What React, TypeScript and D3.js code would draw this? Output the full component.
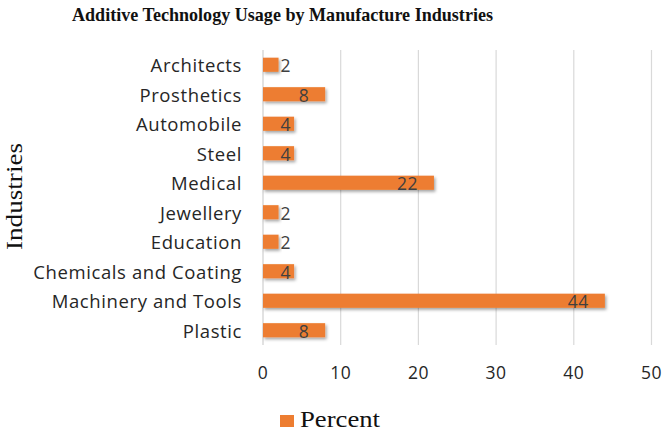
import React from "react";
import * as d3 from "d3";

const categories = ["Architects", "Prosthetics", "Automobile", "Steel", "Medical", "Jewellery", "Education", "Chemicals and Coating", "Machinery and Tools", "Plastic"];
const values = [2, 8, 4, 4, 22, 2, 2, 4, 44, 8];
const xTicks = [0, 10, 20, 30, 40, 50];
const title = "Additive  Technology Usage by Manufacture Industries";
const seriesName = "Percent";
const yTitle = "Industries";

export default function App() {
  const W = 666, H = 431;
  const left = 263, right = 651.5, top = 50, bottom = 345;
  const x = d3.scaleLinear().domain([0, 50]).range([left, right]);
  const y = d3.scaleBand().domain(categories).range([top, bottom]).paddingInner(0.52).paddingOuter(0.26);
  const orange = "#ED7D31";
  const sans = "'Open Sans', 'Noto Sans', sans-serif";
  const serif = "'Liberation Serif', 'Times New Roman', serif";
  return (
    <svg width={W} height={H} style={{ position: "absolute", left: 0, top: 0, background: "#fff" }}>
      <defs>
        <filter id="sh" x="-10%" y="-50%" width="130%" height="250%">
          <feDropShadow dx="1.5" dy="2" stdDeviation="1.5" floodColor="#000" floodOpacity="0.35" />
        </filter>
      </defs>
      <rect width={W} height={H} fill="#fff" />
      <text x={72} y={21} textLength={421} lengthAdjust="spacingAndGlyphs" fontFamily={serif} fontWeight="bold" fontSize={19} fill="#111">{title}</text>
      {xTicks.map((t) => (
        <line key={t} x1={x(t)} x2={x(t)} y1={top} y2={bottom} stroke={t === 0 ? "#cfcfcf" : "#d9d9d9"} strokeWidth={1.2} />
      ))}
      {categories.map((c, i) => {
        const bx = x(0), bw = x(values[i]) - x(0), by = y(c)!, bh = y.bandwidth();
        const end = x(values[i]);
        const lx = Math.max(end - 16, left + 28);
        return (
          <g key={c}>
            <rect x={bx} y={by} width={bw} height={bh} fill={orange} filter="url(#sh)" />
            <text x={lx} y={by + bh / 2 + 1} dy="0.36em" textAnchor="end" fontFamily={sans} fontSize={17.5} letterSpacing={0.5} fill="#404040">{values[i]}</text>
            <text x={242} y={by + bh / 2 + 1} dy="0.36em" textAnchor="end" fontFamily={sans} fontSize={18.5} letterSpacing={0.6} fill="#262626">{c}</text>
          </g>
        );
      })}
      {xTicks.map((t) => (
        <text key={"l" + t} x={x(t)} y={373} dy="0.36em" textAnchor="middle" fontFamily={sans} fontSize={17.5} letterSpacing={0.5} fill="#262626">{t}</text>
      ))}
      <text transform={`translate(21.5,196.5) rotate(-90)`} textAnchor="middle" textLength={107} lengthAdjust="spacingAndGlyphs" fontFamily={serif} fontSize={24} fill="#111">{yTitle}</text>
      <rect x={280} y={415} width={14} height={12} fill={orange} />
      <text x={300} y={427} textLength={80} lengthAdjust="spacingAndGlyphs" fontFamily={serif} fontSize={23} fill="#111">{seriesName}</text>
    </svg>
  );
}
